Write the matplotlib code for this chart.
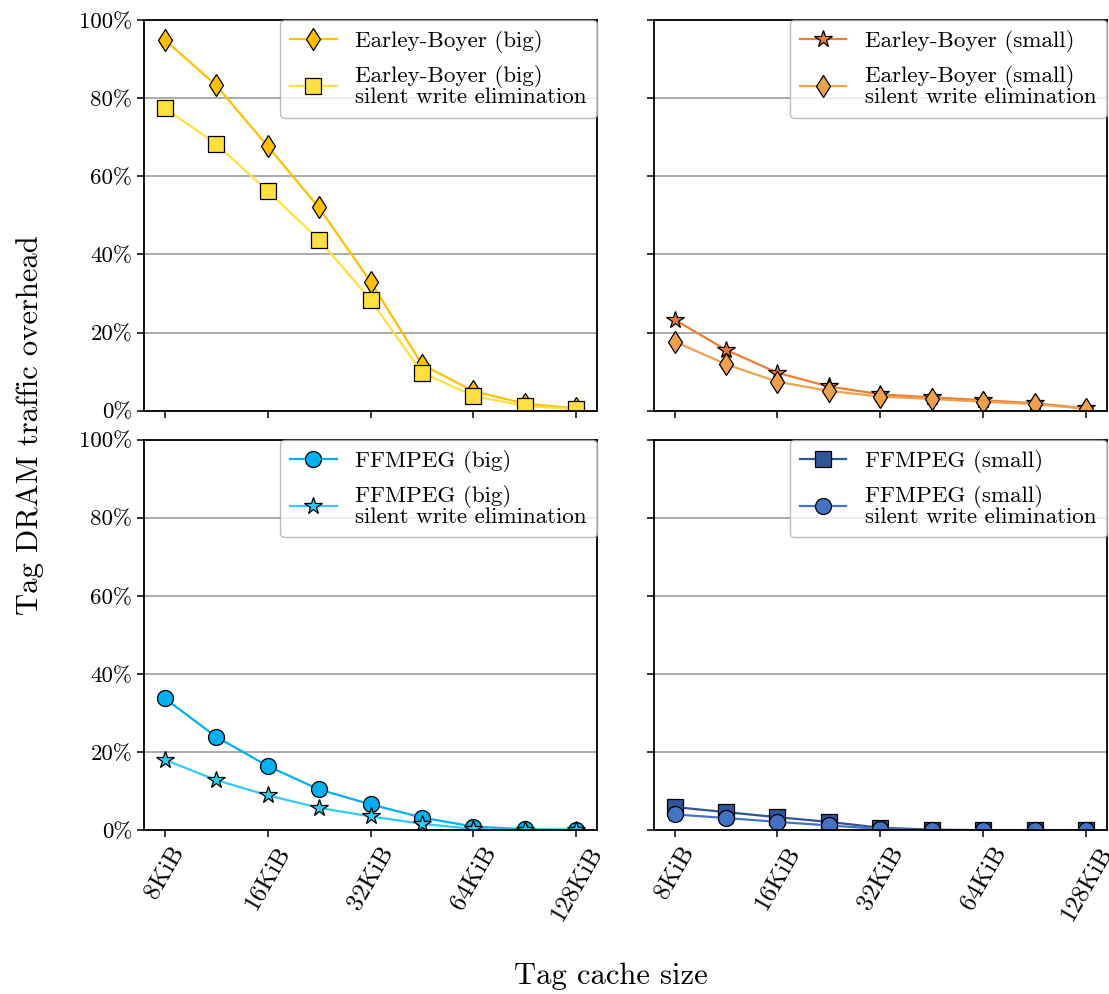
import numpy as np
import matplotlib
matplotlib.use("Agg")
import matplotlib.pyplot as plt

plt.rcParams["font.family"] = ["cmr10", "DejaVu Serif"]
plt.rcParams["mathtext.fontset"] = "cm"
plt.rcParams["axes.formatter.use_mathtext"] = True

# ---- data ----
sizes_kib = [8, 11.3, 16, 22.6, 32, 45.3, 64, 90.5, 128]
xtick_vals = [8, 16, 32, 64, 128]
xtick_labels = ["8KiB", "16KiB", "32KiB", "64KiB", "128KiB"]

eb_big = [94.9, 83.3, 67.7, 52.0, 33.0, 11.8, 5.0, 1.8, 0.6]
eb_big_swe = [77.4, 68.3, 56.2, 43.8, 28.4, 9.7, 3.8, 1.2, 0.4]
eb_small = [23.3, 15.6, 9.7, 6.2, 4.2, 3.4, 2.7, 1.9, 0.6]
eb_small_swe = [17.7, 11.9, 7.4, 5.1, 3.6, 3.0, 2.3, 1.7, 0.5]
ff_big = [33.8, 24.0, 16.5, 10.5, 6.7, 3.3, 1.0, 0.3, 0.2]
ff_big_swe = [18.1, 12.9, 9.0, 5.8, 3.6, 1.7, 0.4, 0.1, 0.0]
ff_small = [6.0, 4.7, 3.4, 2.2, 0.7, 0.2, 0.1, 0.1, 0.1]
ff_small_swe = [4.1, 3.2, 2.2, 1.3, 0.4, 0.1, 0.0, 0.0, 0.0]

# (values, label, colour, marker) per panel
panels = [
    [(eb_big, "Earley-Boyer (big)", "#FFC000", "d"),
     (eb_big_swe, "Earley-Boyer (big)\nsilent write elimination", "#FFE040", "s")],
    [(eb_small, "Earley-Boyer (small)", "#ED7D31", "*"),
     (eb_small_swe, "Earley-Boyer (small)\nsilent write elimination", "#F0A04B", "d")],
    [(ff_big, "FFMPEG (big)", "#00B0F0", "o"),
     (ff_big_swe, "FFMPEG (big)\nsilent write elimination", "#2FCBFA", "*")],
    [(ff_small, "FFMPEG (small)", "#2F5597", "s"),
     (ff_small_swe, "FFMPEG (small)\nsilent write elimination", "#4472C4", "o")],
]

fig, axes = plt.subplots(2, 2, figsize=(11.09, 9.94), dpi=100, sharex=True, sharey=True)
fig.subplots_adjust(left=0.130, right=0.998, top=0.980, bottom=0.1645,
                    wspace=0.126, hspace=0.074)

for ax, series in zip(axes.flat, panels):
    for vals, label, col, mk in series:
        ms = 11.5 if mk != "*" else 13
        if mk == "d":
            ms = 11.2
        ax.plot(sizes_kib, vals, color=col, lw=1.6, marker=mk, ms=ms,
                markerfacecolor=col, markeredgecolor="black", markeredgewidth=0.9,
                label=label)
    ax.set_xscale("log", base=2)
    ax.set_ylim(0, 100)
    ax.set_yticks(range(0, 101, 20))
    ax.set_yticklabels([f"{v}%" for v in range(0, 101, 20)])
    ax.set_xticks(xtick_vals)
    ax.set_xticklabels(xtick_labels, rotation=60)
    ax.minorticks_off()
    ax.grid(axis="y", color="#aaaaaa", lw=1.4)
    ax.set_axisbelow(True)
    ax.tick_params(direction="out", length=5, width=1.1, labelsize=16.5)
    ax.tick_params(axis="x", labelsize=18)
    for sp in ax.spines.values():
        sp.set_linewidth(1.3)
    leg = ax.legend(loc="upper right", fontsize=16.6, borderaxespad=0, framealpha=0.8,
                    edgecolor="#aaaaaa", labelspacing=0.5, borderpad=0.45)
    for t in leg.get_texts():
        t.set_linespacing(1.0)

fig.text(0.551, 0.004, "Tag cache size", ha="center", va="bottom", fontsize=22)
fig.text(0.027, 0.572, "Tag DRAM traffic overhead", rotation=90, ha="center",
         va="center", fontsize=22)

fig.savefig("out.png", dpi=100)
